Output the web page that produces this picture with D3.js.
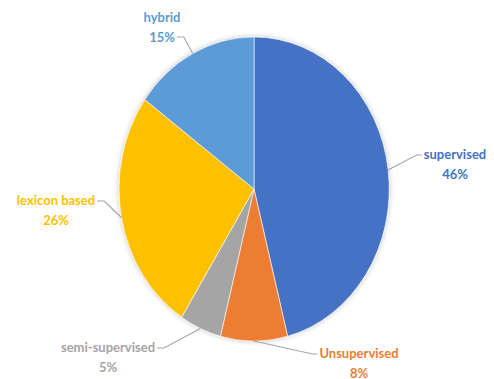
<!DOCTYPE html>
<html>
<head>
	<meta charset="utf-8">
	<title>pie</title>
	<script src="https://d3js.org/d3.v7.min.js"></script>
	<style>
		body { margin: 0; background: #fff; }
		text { font-family: Lato, "Open Sans", sans-serif; font-weight: 700; font-size: 13px; }
	</style>
</head>
<body>
	<div class="chart"></div>

	<script type="text/javascript">
		// data, clockwise from 12 o'clock
		const names = ['supervised', 'Unsupervised', 'semi-supervised', 'lexicon based', 'hybrid']
		const values = [46, 8, 5, 26, 15]
		const colors = ['#4472C4', '#ED7D31', '#A5A5A5', '#FFC000', '#5B9BD5']

		const width = 494
		const height = 379
		const cx = 254, cy = 189
		const rx = 135, ry = 152

		// where each label's text block sits (center x, first baseline) and which side the leader comes from
		const labelPos = [
			{ x: 455, y: 159, side: 'left' },
			{ x: 359, y: 358, side: 'left' },
			{ x: 108, y: 352, side: 'right' },
			{ x: 56, y: 205, side: 'right' },
			{ x: 162, y: 22, side: 'right', second: true }
		]

		const svg = d3.select('.chart').append('svg')
			.attr('width', width)
			.attr('height', height)

		const defs = svg.append('defs')
		const f = defs.append('filter').attr('id', 'shadow')
			.attr('x', '-10%').attr('y', '-10%').attr('width', '120%').attr('height', '120%')
		f.append('feDropShadow').attr('dx', 0).attr('dy', 0).attr('stdDeviation', 2.5)
			.attr('flood-color', '#000').attr('flood-opacity', 0.25)

		const data = names.map((n, i) => ({ name: n, value: values[i], color: colors[i] }))
		const pie = d3.pie().value(d => d.value).sort(null)
		const arcs = pie(data)
		const arc = d3.arc().innerRadius(0).outerRadius(1)

		// elliptical pie: unit arc scaled; shadow on the unscaled outer group
		svg.append('g')
			.attr('filter', 'url(#shadow)')
			.append('g')
			.attr('transform', `translate(${cx},${cy}) scale(${rx},${ry})`)
			.selectAll('path')
			.data(arcs)
			.join('path')
			.attr('d', arc)
			.attr('fill', d => d.data.color)
			.attr('stroke', '#fff')
			.attr('stroke-width', 0.6)
			.attr('vector-effect', 'non-scaling-stroke')

		const tw = (s) => {
			const t = svg.append('text').text(s)
			const w = t.node().getComputedTextLength()
			t.remove()
			return w
		}

		const labels = svg.append('g')
		arcs.forEach((a, i) => {
			const p = labelPos[i]
			const mid = (a.startAngle + a.endAngle) / 2
			const sx = cx + rx * Math.sin(mid)
			const sy = cy - ry * Math.cos(mid)
			const pct = a.data.value + '%'

			const g = labels.append('g')
			g.append('text').attr('x', p.x).attr('y', p.y)
				.attr('text-anchor', 'middle').attr('fill', a.data.color).text(a.data.name)
			g.append('text').attr('x', p.x).attr('y', p.y + 19.5)
				.attr('text-anchor', 'middle').attr('fill', a.data.color).text(pct)

			// leader line
			const line = p.second ? tw(pct) : tw(a.data.name)
			const ly = p.second ? p.y + 19 - 4 : p.y - 4
			let ex
			if (p.side === 'left') ex = p.x - line / 2 - 2
			else ex = p.x + line / 2 + 2
			const kx = p.side === 'left' ? ex - 5 : ex + 7
			g.append('polyline')
				.attr('points', [[sx, sy], [kx, ly], [ex, ly]].map(q => q.join(',')).join(' '))
				.attr('fill', 'none')
				.attr('stroke', '#A6A6A6')
				.attr('stroke-width', 1.1)
		})
	</script>
</body>
</html>
